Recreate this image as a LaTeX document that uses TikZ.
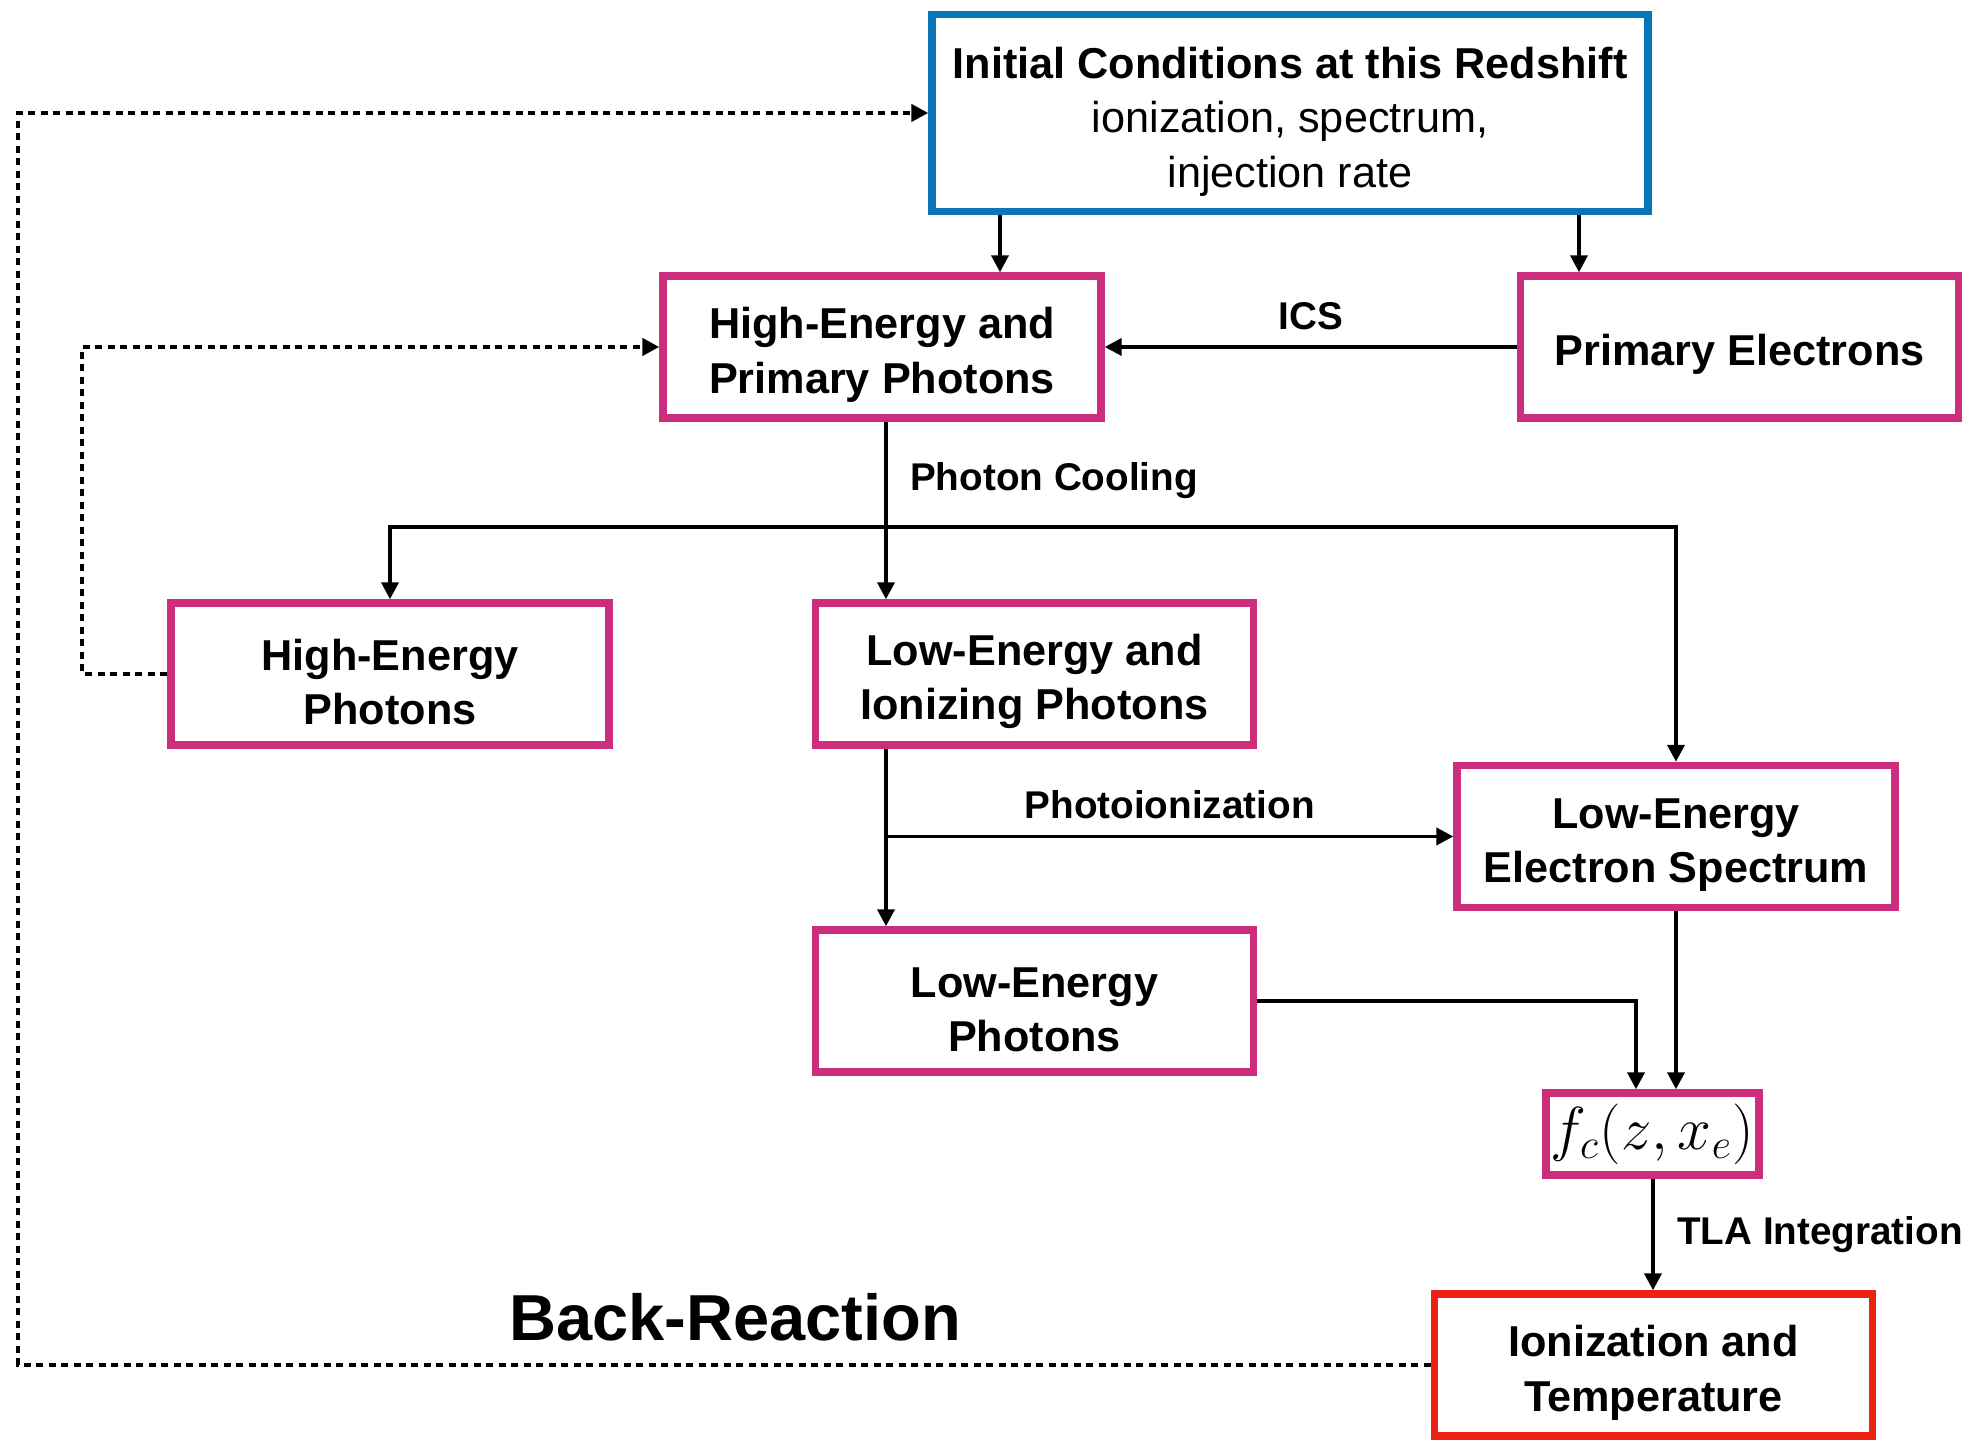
\documentclass[tikz,border=0pt]{standalone}
\usepackage{fontspec}
\setmainfont{Liberation Sans}
\usepackage{tikz}
\usetikzlibrary{arrows.meta, positioning, calc}
\usepackage{amsmath}
\definecolor{InitBlue}{HTML}{0A74B8}
\definecolor{StageMagenta}{HTML}{CC2D7D}
\definecolor{FinalRed}{HTML}{EE2214}
\newcommand{\toppad}{\rule{0pt}{0.47cm}}

\begin{document}
\begin{tikzpicture}[
    every node/.style={font=\small},
    stage/.style={draw=StageMagenta, line width=2.1pt, minimum width=4.38cm,
        minimum height=1.42cm, inner sep=2pt, align=center,
        font={\fontsize{12.3}{15.4}\selectfont\bfseries}},
    lbl/.style={font={\fontsize{11}{13}\selectfont\bfseries}},
    arr/.style={-{Triangle[length=1.7mm, width=1.7mm]}, line width=1.1pt},
    dotarr/.style={-{Triangle[length=1.7mm, width=1.7mm]}, line width=1.2pt,
        dash pattern=on 0.7mm off 0.55mm},
]
\useasboundingbox (0, 0) rectangle (19.76, 14.41);

% =============================================
% TOP: initial conditions
% =============================================
\node[stage, draw=InitBlue, minimum width=7.16cm, minimum height=1.97cm] (init) at (12.90, 13.28)
    {\rule{0pt}{0.49cm}Initial Conditions at this Redshift\\
    \mdseries ionization, spectrum,\\ \mdseries injection rate};

\node[stage] (hepp) at (8.82, 10.94) {\toppad High-Energy and\\Primary Photons};
\node[stage] (pe) at (17.395, 10.94) {\toppad Primary Electrons};

\draw[arr] (init.south -| 10.00,0) -- (hepp.north -| 10.00,0);
\draw[arr] (init.south -| 15.79,0) -- (pe.north -| 15.79,0);
\draw[arr] (pe) -- (hepp) node[midway, above=1pt, lbl] {ICS};

% =============================================
% PHOTON COOLING
% =============================================
\node[stage] (hep) at (3.90, 7.67) {\toppad High-Energy\\Photons};
\node[stage] (leip) at (10.345, 7.67) {\toppad Low-Energy and\\Ionizing Photons};
\node[stage] (lees) at (16.76, 6.045) {\toppad Low-Energy\\Electron Spectrum};
\node[stage] (lep) at (10.345, 4.40) {\toppad Low-Energy\\Photons};

\coordinate (split) at (8.86, 9.14);
\draw[arr] (hepp.south -| split) -- (leip.north -| split)
    node[pos=0.33, right=3pt, lbl] {Photon Cooling};
\draw[arr] (split) -| (hep.north);
\draw[arr] (split) -| (lees.north);

% photoionization branch
\draw[arr] (leip.south -| split) -- (lep.north -| split);
\draw[arr] (lees.west -| split) -- (lees.west)
    node[midway, above=1pt, lbl] {Photoionization};

% =============================================
% BOTTOM: f_c and TLA
% =============================================
\node[stage, minimum width=2.13cm, minimum height=0.82cm, inner sep=0pt,
    font={\fontsize{16.5}{18}\selectfont}] (fc) at (16.525, 3.07)
    {$f_c(z, x_e)$};
\node[stage, draw=FinalRed] (it) at (16.535, 0.76) {\toppad Ionization and\\Temperature};

\draw[arr] (lep.east) -| (fc.north -| 16.36,0);
\draw[arr] (lees.south) -- (lees.south |- fc.north);
\draw[arr] (fc.south -| 16.53,0) -- (it.north -| 16.53,0)
    node[midway, right=3pt, lbl] {TLA Integration};

% =============================================
% BACK-REACTION (dotted feedback)
% =============================================
\draw[dotarr] (hep.west) -- ++(-0.85, 0) |- (hepp.west);
\coordinate (back) at (0.18, 0.76);
\draw[dotarr] (it.west) -- (back) |- (init.west);

\node[font={\fontsize{18.5}{22}\selectfont\bfseries}] (backlbl) at (7.35, 1.24) {Back-Reaction};

\end{tikzpicture}
\end{document}
